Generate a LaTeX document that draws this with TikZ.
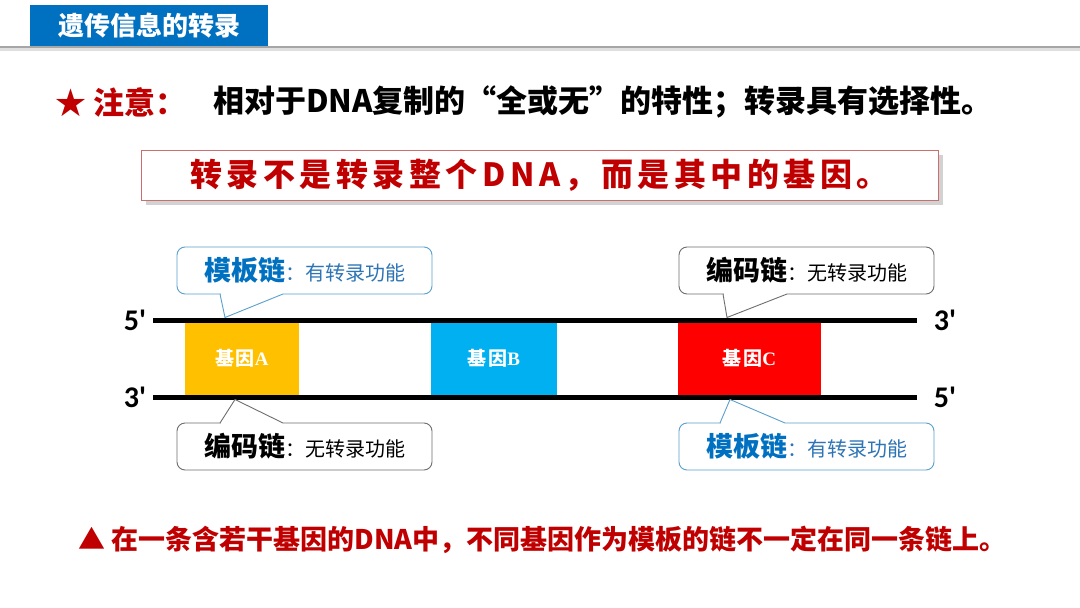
\documentclass[tikz,border=0pt]{standalone}
\usepackage{fontspec}
\setmainfont{Liberation Sans}
\newfontfamily\cjk{Noto Sans CJK SC}
\newfontfamily\calib{Carlito}
\newfontfamily\serifl{Liberation Serif}
\definecolor{titleblue}{HTML}{0070C0}
\definecolor{darkred}{HTML}{C00000}
\definecolor{boxborder}{RGB}{205,110,110}
\definecolor{goldgene}{HTML}{FFC000}
\definecolor{cyangene}{HTML}{00B0F0}
\definecolor{redgene}{HTML}{FF0000}
\definecolor{callblue}{RGB}{90,160,205}
\definecolor{callgray}{RGB}{110,110,110}
\definecolor{textblue}{RGB}{46,117,182}
\newcommand{\fsz}[1]{\fontsize{#1}{#1}\selectfont}
\tikzset{
  genebox/.style={minimum width=#1, minimum height=73pt, inner sep=0pt, text=white,
    font=\cjk\bfseries\fsz{19}},
  callbox/.style={draw=#1, line width=0.9pt, rounded corners=8pt, fill=white,
    minimum width=255pt, minimum height=47pt, inner sep=0pt},
  strand/.style={line width=5pt},
  endlabel/.style={font=\calib\bfseries\fsz{30}, inner sep=0pt},
}
\begin{document}
\begin{tikzpicture}[x=1pt,y=-1pt]
\useasboundingbox (0,0) rectangle (1080,608);
\fill[white] (0,0) rectangle (1080,608);
% header
\fill[gray!25] (0,47) rectangle (1080,51);
\draw[line width=2pt, gray!70] (0,47) -- (1080,47);
\node[fill=titleblue, minimum width=238pt, minimum height=41pt, inner sep=0pt, anchor=north west,
  text=white, font=\cjk\bfseries\fsz{26}] (title) at (30,5) {遗传信息的转录};
% notice
\node[anchor=west, inner sep=0pt, text=darkred, font=\cjk\bfseries\fsz{31}] (star) at (55,102) {★ 注意：};
\node[anchor=west, inner sep=0pt, font=\cjk\bfseries\fsz{31}] (note) at (213,102) {相对于DNA复制的“全或无”的特性；转录具有选择性。};
% key box
\fill[gray!35] (146,155) rectangle (943,205);
\node[draw=boxborder, line width=0.8pt, fill=white, minimum width=797pt, minimum height=50pt, inner sep=0pt,
  text=darkred, font=\cjk\bfseries\fsz{32}] (key) at (539.5,175)
  {\addfontfeature{LetterSpace=14}转录不是转录整个DNA，而是其中的基因。};
% strands
\coordinate (t5) at (153,320); \coordinate (t3) at (917,320);
\coordinate (b3) at (153,397); \coordinate (b5) at (917,397);
% genes
\node[genebox=114pt, fill=goldgene] (geneA) at (242,358.5) {\addfontfeature{LetterSpace=8}基因{\serifl\bfseries A}};
\node[genebox=126pt, fill=cyangene] (geneB) at (494,358.5) {\addfontfeature{LetterSpace=8}基因{\serifl\bfseries B}};
\node[genebox=143pt, fill=redgene] (geneC) at (749.5,358.5) {\addfontfeature{LetterSpace=8}基因{\serifl\bfseries C}};
\draw[strand] (t5) -- (t3);
\draw[strand] (b3) -- (b5);
\node[endlabel] (l5top) at (135,320) {5'};
\node[endlabel] (l3bot) at (135,397) {3'};
\node[endlabel] (l3top) at (945,320) {3'};
\node[endlabel] (l5bot) at (945,397) {5'};
% callouts
\node[callbox=callblue] (cTL) at (304.5,270.5)
  {\cjk{\fsz{27}\bfseries\color{titleblue}模板链}{\fsz{20}\color{textblue}：有转录功能}};
\node[callbox=callgray] (cTR) at (806.5,270.5)
  {\cjk{\fsz{27}\bfseries 编码链}{\fsz{20}：无转录功能}};
\node[callbox=callgray] (cBL) at (304.5,446.5)
  {\cjk{\fsz{27}\bfseries 编码链}{\fsz{20}：无转录功能}};
\node[callbox=callblue] (cBR) at (806.5,446.5)
  {\cjk{\fsz{27}\bfseries\color{titleblue}模板链}{\fsz{20}\color{textblue}：有转录功能}};
% pointers
\coordinate (pTL) at (225,317.5);
\coordinate (pTR) at (727,317.5);
\coordinate (pBL) at (235,399.5);
\coordinate (pBR) at (730,399.5);
\fill[white] (220.5,292.5) rectangle (282.5,295.5);
\draw[callblue, line width=0.9pt] (220,294) -- (pTL) -- (283,294);
\fill[white] (723.5,292.5) rectangle (786.5,295.5);
\draw[callgray, line width=0.9pt] (723,294) -- (pTR) -- (787,294);
\fill[white] (220.5,421.5) rectangle (282.5,424.5);
\draw[callgray, line width=0.9pt] (220,423) -- (pBL) -- (283,423);
\fill[white] (720.5,421.5) rectangle (784.5,424.5);
\draw[callblue, line width=0.9pt] (720,423) -- (pBR) -- (785,423);
% footer
\node[anchor=west, inner sep=0pt, text=darkred, font=\cjk\bfseries\fsz{27}] (foot) at (78,540)
  {▲ 在一条含若干基因的DNA中，不同基因作为模板的链不一定在同一条链上。};
\end{tikzpicture}
\end{document}
